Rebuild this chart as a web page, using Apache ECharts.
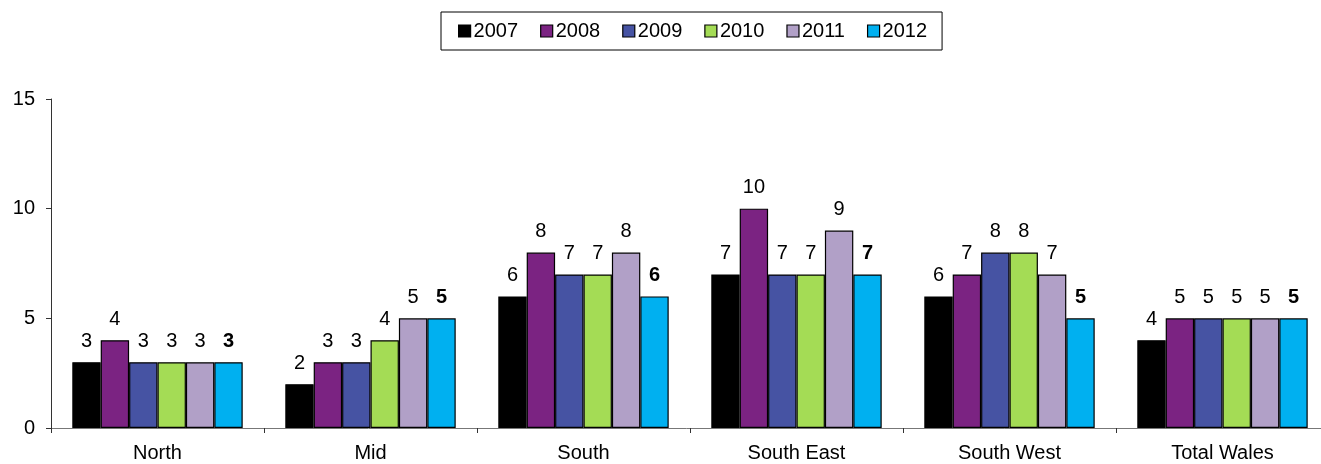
<!DOCTYPE html>
<html>
<head>
<meta charset="utf-8">
<script src="https://cdn.jsdelivr.net/npm/echarts@6/dist/echarts.min.js"></script>
<style>
  html, body { margin: 0; padding: 0; background: #fff; overflow: hidden; }
  #chart { width: 1321px; height: 464px; }
</style>
</head>
<body>
<div id="chart"></div>
<script>
// Regions along the category axis
const regions = ['North', 'Mid', 'South', 'South East', 'South West', 'Total Wales'];
const years = ['2007', '2008', '2009', '2010', '2011', '2012'];

// Values per year, one entry per region
const v2007 = [3, 2, 6, 7, 6, 4];
const v2008 = [4, 3, 8, 10, 7, 5];
const v2009 = [3, 3, 7, 7, 8, 5];
const v2010 = [3, 4, 7, 7, 8, 5];
const v2011 = [3, 5, 8, 9, 7, 5];
const v2012 = [3, 5, 6, 7, 5, 5];

const yTicks = [0, 5, 10, 15];

const seriesValues = [v2007, v2008, v2009, v2010, v2011, v2012];
const colors = ['#000000', '#7b2382', '#4653a3', '#a4dc55', '#b1a0c7', '#00b0f0'];
const font = '"Liberation Sans", Arial, sans-serif';

const chart = echarts.init(document.getElementById('chart'), null, { renderer: 'canvas' });

const series = seriesValues.map((vals, i) => ({
  name: years[i],
  type: 'bar',
  data: vals,
  barGap: '0%',
  barCategoryGap: '20%',
  itemStyle: { color: colors[i], borderColor: '#000', borderWidth: 1.2 },
  label: {
    show: true,
    position: 'top',
    distance: 11,
    color: '#000',
    fontFamily: font,
    fontSize: 20,
    fontWeight: i === 5 ? 'bold' : 'normal'
  }
}));

chart.setOption({
  animation: false,
  textStyle: { fontFamily: font },
  legend: {
    data: years,
    top: 12,
    left: 441,
    itemWidth: 12,
    itemHeight: 12,
    itemGap: 22,
    padding: [9, 15, 9, 17],
    borderColor: '#000',
    borderWidth: 1,
    icon: 'rect',
    itemStyle: { borderColor: '#000', borderWidth: 1.2 },
    textStyle: { fontSize: 20, color: '#000', fontFamily: font, padding: [0, 0, 0, -2] }
  },
  // the last category runs a little past the right edge of the canvas
  grid: { left: 51, top: 99, width: 1278, height: 329, containLabel: false, outerBoundsMode: 'none' },
  xAxis: {
    type: 'category',
    data: regions,
    axisLine: { lineStyle: { color: '#777', width: 1 } },
    axisTick: { show: true, length: 5, lineStyle: { color: '#333' } },
    axisLabel: { fontSize: 20, color: '#000', fontFamily: font, margin: 15 }
  },
  yAxis: {
    type: 'value',
    min: yTicks[0],
    max: yTicks[yTicks.length - 1],
    interval: 5,
    axisLine: { show: true, lineStyle: { color: '#333', width: 1 } },
    axisTick: { show: true, length: 5, lineStyle: { color: '#333' } },
    splitLine: { show: false },
    axisLabel: { fontSize: 20, color: '#000', fontFamily: font, margin: 16 }
  },
  series
});
</script>
</body>
</html>
